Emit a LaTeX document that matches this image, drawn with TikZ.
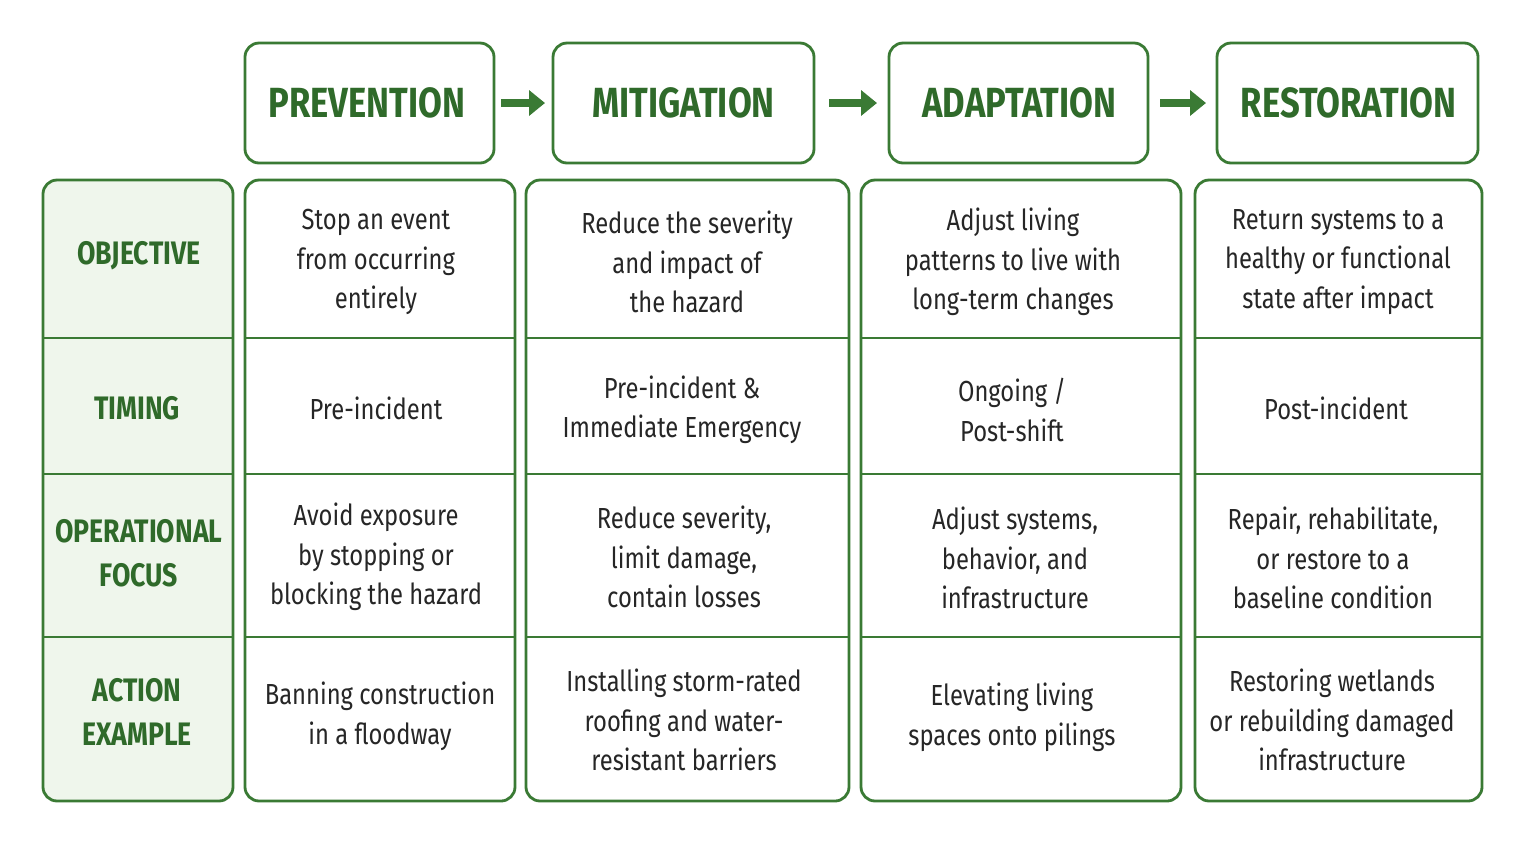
\documentclass[tikz,border=0pt]{standalone}
\usepackage{fontspec}
\setmainfont{Fira Sans}[FakeStretch=0.82]
\usetikzlibrary{positioning}
\definecolor{leafgreen}{HTML}{3A7A34}
\definecolor{labelgreen}{HTML}{2F6A2A}
\definecolor{palegreen}{HTML}{EFF6EC}
\tikzset{
  phase/.style={draw=leafgreen, line width=1.6pt, rounded corners=8pt, fill=white},
  phasetext/.style={font=\bfseries\fontsize{24}{28}\selectfont, text=labelgreen},
  cell/.style={align=center, font=\fontsize{16.5}{22.5}\selectfont, text=black!85},
  rowlabel/.style={align=center, font=\bfseries\fontsize{18.5}{25}\selectfont, text=labelgreen},
  flow/.style={-{Triangle[length=9pt,width=14pt]}, line width=4pt, leafgreen},
}
\usetikzlibrary{arrows.meta}
\begin{document}
\begin{tikzpicture}[x=0.02cm, y=-0.02cm]
  \useasboundingbox (0,0) rectangle (1524,843);

  % phase headers
  \draw[phase] (245,43) rectangle (494,163);
  \draw[phase] (553,43) rectangle (814,163);
  \draw[phase] (889,43) rectangle (1148,163);
  \draw[phase] (1217,43) rectangle (1478,163);
  \node[phasetext] (prev) at (367,103) {PREVENTION};
  \node[phasetext] (miti) at (683.5,103) {MITIGATION};
  \node[phasetext] (adap) at (1019.5,103) {ADAPTATION};
  \node[phasetext] (rest) at (1348.5,103) {RESTORATION};
  \coordinate (a1) at (501,103); \coordinate (b1) at (545,103);
  \coordinate (a2) at (829,103); \coordinate (b2) at (877,103);
  \coordinate (a3) at (1160,103); \coordinate (b3) at (1206,103);
  \draw[flow] (a1) -- (b1);
  \draw[flow] (a2) -- (b2);
  \draw[flow] (a3) -- (b3);

  % columns
  \draw[phase, fill=palegreen] (43,180) rectangle (233,801);
  \foreach \l/\r in {245/515, 526/849, 861/1181, 1195/1482}{
      \draw[phase] (\l,180) rectangle (\r,801);
    }
  \foreach \y in {338, 474, 637}{
      \foreach \l/\r in {43/233, 245/515, 526/849, 861/1181, 1195/1482}{
          \draw[leafgreen, line width=1.6pt] (\l,\y) -- (\r,\y);
        }
    }

  % row labels
  \node[rowlabel] (objective) at (139,256) {OBJECTIVE};
  \node[rowlabel] (timing) at (137,408) {TIMING};
  \node[rowlabel] (focus) at (139,553) {OPERATIONAL\\FOCUS};
  \node[rowlabel] (action) at (137,712) {ACTION\\EXAMPLE};

  % objective
  \node[cell] (o1) at (376,262) {Stop an event\\from occurring\\entirely};
  \node[cell] (o2) at (687,262) {Reduce the severity\\and impact of\\the hazard};
  \node[cell] (o3) at (1013,262) {Adjust living\\patterns to live with\\long-term changes};
  \node[cell] (o4) at (1338,262) {Return systems to a\\healthy or functional\\state after impact};

  % timing
  \node[cell] (t1) at (376,408) {Pre-incident};
  \node[cell] (t2) at (682,410) {Pre-incident \&\\Immediate Emergency};
  \node[cell] (t3) at (1012,410) {Ongoing /\\Post-shift};
  \node[cell] (t4) at (1336,408) {Post-incident};

  % operational focus
  \node[cell] (f1) at (376,557) {Avoid exposure\\by stopping or\\blocking the hazard};
  \node[cell] (f2) at (684,557) {Reduce severity,\\limit damage,\\contain losses};
  \node[cell] (f3) at (1015,558) {Adjust systems,\\behavior, and\\infrastructure};
  \node[cell] (f4) at (1333,558) {Repair, rehabilitate,\\or restore to a\\baseline condition};

  % action example
  \node[cell] (e1) at (380,716) {Banning construction\\in a floodway};
  \node[cell] (e2) at (684,720) {Installing storm-rated\\roofing and water-\\resistant barriers};
  \node[cell] (e3) at (1012,717) {Elevating living\\spaces onto pilings};
  \node[cell] (e4) at (1332,720) {Restoring wetlands\\or rebuilding damaged\\infrastructure};
\end{tikzpicture}
\end{document}
